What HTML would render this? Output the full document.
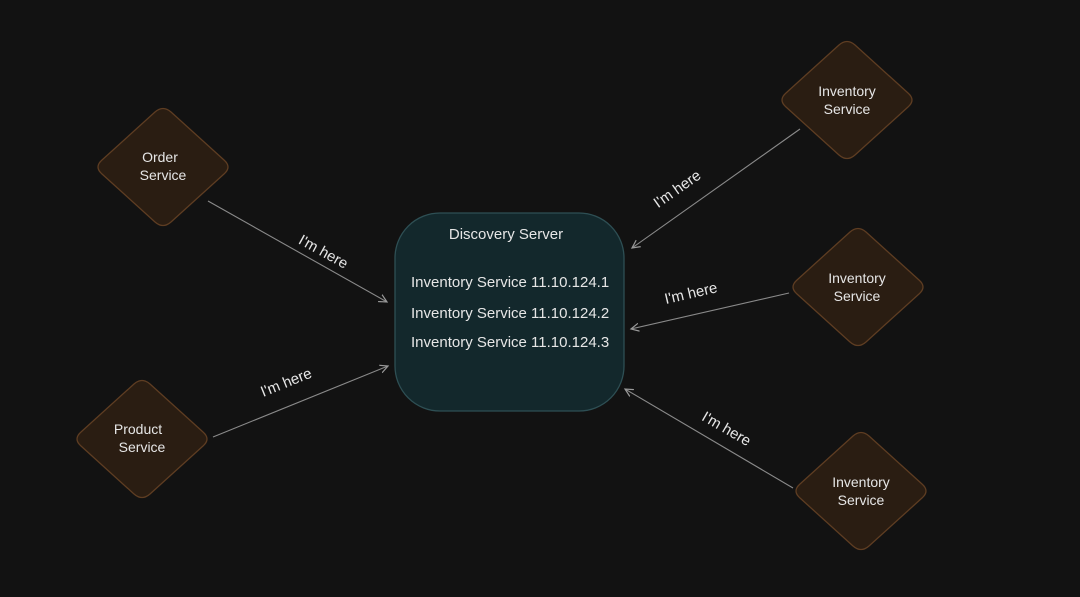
<!DOCTYPE html>
<html><head><meta charset="utf-8"><style>
html,body{margin:0;padding:0;background:#121212;}
svg{display:block}
text{font-family:"Liberation Sans",sans-serif;fill:#e6e6e6;}
</style></head><body>
<svg width="1080" height="597" viewBox="0 0 1080 597" xmlns="http://www.w3.org/2000/svg">
<defs>
<marker id="a" markerWidth="10" markerHeight="10" refX="8" refY="5" orient="auto" markerUnits="userSpaceOnUse">
<path d="M0,1 L8,5 L0,9" fill="none" stroke="#9a9a9a" stroke-width="1.2"/></marker>
<path id="d" d="M-8,-55 Q0,-62 8,-55 L61,-7 Q69,0 61,7 L8,55 Q0,62 -8,55 L-61,7 Q-69,0 -61,-7 Z"/>
</defs>
<rect width="1080" height="597" fill="#121212"/>
<g fill="#2a1d12" stroke="#5e3d22" stroke-width="1.3">
<use href="#d" x="163" y="167"/>
<use href="#d" x="142" y="439"/>
<use href="#d" x="847" y="100"/>
<use href="#d" x="858" y="287"/>
<use href="#d" x="861" y="491"/>
</g>
<rect x="395" y="213" width="229" height="198" rx="45" fill="#13282c" stroke="#2e4f54" stroke-width="1.3"/>
<g stroke="#8a8a8a" stroke-width="1.1" fill="none" marker-end="url(#a)">
<line x1="208" y1="201" x2="387" y2="302"/>
<line x1="213" y1="437" x2="388" y2="366"/>
<line x1="800" y1="129" x2="632" y2="248"/>
<line x1="789" y1="293" x2="631" y2="329"/>
<line x1="793" y1="488" x2="625" y2="389"/>
</g>
<g font-size="14" text-anchor="middle">
<text x="160" y="162">Order</text><text x="163" y="180">Service</text>
<text x="138" y="434">Product</text><text x="142" y="452">Service</text>
<text x="847" y="96">Inventory</text><text x="847" y="114">Service</text>
<text x="857" y="283">Inventory</text><text x="857" y="301">Service</text>
<text x="861" y="487">Inventory</text><text x="861" y="505">Service</text>
</g>
<g font-size="15">
<text x="506" y="239" text-anchor="middle">Discovery Server</text>
<text x="411" y="287">Inventory Service 11.10.124.1</text>
<text x="411" y="318">Inventory Service 11.10.124.2</text>
<text x="411" y="347">Inventory Service 11.10.124.3</text>
</g>
<g font-size="15" text-anchor="middle">
<text transform="translate(321,256) rotate(29)">I'm here</text>
<text transform="translate(288,387) rotate(-22)">I'm here</text>
<text transform="translate(680,193) rotate(-35)">I'm here</text>
<text transform="translate(692,298) rotate(-13)">I'm here</text>
<text transform="translate(724,433) rotate(30)">I'm here</text>
</g>
</svg>
</body></html>
